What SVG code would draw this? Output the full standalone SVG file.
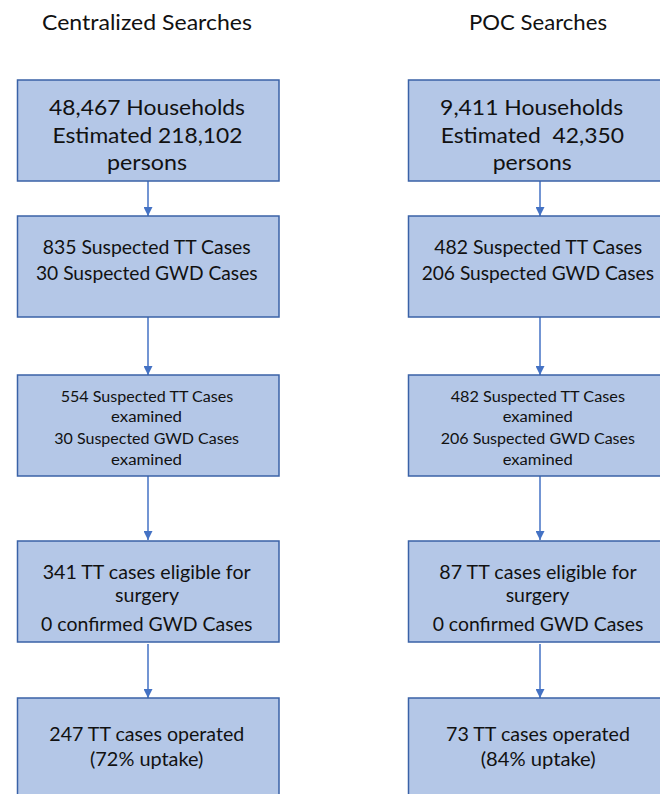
<svg xmlns="http://www.w3.org/2000/svg" width="660" height="794" viewBox="0 0 660 794">
<style>
.box{fill:#B4C7E7;stroke:#3A62A7;stroke-width:1.5}
text{font-family:Lato,"Open Sans","Liberation Sans",sans-serif;fill:#111;text-anchor:middle}
.t{font-size:22px}
.a{font-size:22px}
.b{font-size:18.5px}
.c{font-size:15.5px}
.d{font-size:19px}
.conn line{stroke:#4472C4;stroke-width:1.5}
</style>
<defs>
<marker id="ah" viewBox="0 0 10 10" refX="10" refY="5" markerWidth="6" markerHeight="6" markerUnits="strokeWidth" orient="auto">
<path d="M0,0 L10,5 L0,10 z" fill="#4472C4"/>
</marker>
</defs>
<rect width="660" height="794" fill="#fff"/>
<g id="titles">
<text class="t" x="147" y="30" textLength="210" lengthAdjust="spacingAndGlyphs">Centralized Searches</text>
<text class="t" x="538" y="30" textLength="138" lengthAdjust="spacingAndGlyphs">POC Searches</text>
</g>
<g class="conn" id="connectors">
<line x1="148" y1="181" x2="148" y2="216" marker-end="url(#ah)"/>
<line x1="148" y1="317" x2="148" y2="375" marker-end="url(#ah)"/>
<line x1="148" y1="476" x2="148" y2="540" marker-end="url(#ah)"/>
<line x1="148" y1="644" x2="148" y2="698" marker-end="url(#ah)"/>
<line x1="540" y1="181" x2="540" y2="216" marker-end="url(#ah)"/>
<line x1="540" y1="317" x2="540" y2="375" marker-end="url(#ah)"/>
<line x1="540" y1="476" x2="540" y2="540" marker-end="url(#ah)"/>
<line x1="540" y1="644" x2="540" y2="698" marker-end="url(#ah)"/>
</g>
<g id="L1">
<rect class="box" x="17.5" y="80" width="261.5" height="101"/>
<text class="a" x="147" y="115" textLength="196" lengthAdjust="spacingAndGlyphs">48,467 Households</text>
<text class="a" x="147.5" y="143" textLength="190" lengthAdjust="spacingAndGlyphs">Estimated 218,102</text>
<text class="a" x="147" y="170" textLength="80" lengthAdjust="spacingAndGlyphs">persons</text>
</g>
<g id="L2">
<rect class="box" x="17.5" y="216" width="261.5" height="101"/>
<text class="b" x="146.7" y="254" textLength="208" lengthAdjust="spacingAndGlyphs">835 Suspected TT Cases</text>
<text class="b" x="146.8" y="280" textLength="221.7" lengthAdjust="spacingAndGlyphs">30 Suspected GWD Cases</text>
</g>
<g id="L3">
<rect class="box" x="17.5" y="375" width="261.5" height="101"/>
<text class="c" x="147" y="402.3" textLength="172.7" lengthAdjust="spacingAndGlyphs">554 Suspected TT Cases</text>
<text class="c" x="146.5" y="422.3" textLength="71" lengthAdjust="spacingAndGlyphs">examined</text>
<text class="c" x="146.7" y="444.3" textLength="184.7" lengthAdjust="spacingAndGlyphs">30 Suspected GWD Cases</text>
<text class="c" x="146.5" y="465" textLength="71" lengthAdjust="spacingAndGlyphs">examined</text>
</g>
<g id="L4">
<rect class="box" x="17.5" y="541" width="261.5" height="101"/>
<text class="d" x="146.7" y="579" textLength="208" lengthAdjust="spacingAndGlyphs">341 TT cases eligible for</text>
<text class="d" x="147" y="602" textLength="64" lengthAdjust="spacingAndGlyphs">surgery</text>
<text class="d" x="146.7" y="630.7" textLength="211.3" lengthAdjust="spacingAndGlyphs">0 confirmed GWD Cases</text>
</g>
<g id="L5">
<rect class="box" x="17.5" y="698" width="261.5" height="110"/>
<text class="d" x="146.8" y="740.7" textLength="195" lengthAdjust="spacingAndGlyphs">247 TT cases operated</text>
<text class="d" x="146.7" y="765.5" textLength="113.3" lengthAdjust="spacingAndGlyphs">(72% uptake)</text>
</g>
<g id="R1">
<rect class="box" x="408.5" y="80" width="261.5" height="101"/>
<text class="a" x="531.6" y="115" textLength="183" lengthAdjust="spacingAndGlyphs">9,411 Households</text>
<text class="a" x="532.3" y="143" textLength="183.3" lengthAdjust="spacingAndGlyphs" xml:space="preserve">Estimated  42,350</text>
<text class="a" x="532.2" y="170" textLength="79" lengthAdjust="spacingAndGlyphs">persons</text>
</g>
<g id="R2">
<rect class="box" x="408.5" y="216" width="261.5" height="101"/>
<text class="b" x="538.2" y="254" textLength="208" lengthAdjust="spacingAndGlyphs">482 Suspected TT Cases</text>
<text class="b" x="537.8" y="280" textLength="232.3" lengthAdjust="spacingAndGlyphs">206 Suspected GWD Cases</text>
</g>
<g id="R3">
<rect class="box" x="408.5" y="375" width="261.5" height="101"/>
<text class="c" x="537.8" y="402.3" textLength="174.3" lengthAdjust="spacingAndGlyphs">482 Suspected TT Cases</text>
<text class="c" x="537.7" y="422.3" textLength="70" lengthAdjust="spacingAndGlyphs">examined</text>
<text class="c" x="537.8" y="444.3" textLength="194.3" lengthAdjust="spacingAndGlyphs">206 Suspected GWD Cases</text>
<text class="c" x="537.7" y="465" textLength="70" lengthAdjust="spacingAndGlyphs">examined</text>
</g>
<g id="R4">
<rect class="box" x="408.5" y="541" width="261.5" height="101"/>
<text class="d" x="538" y="579" textLength="197.3" lengthAdjust="spacingAndGlyphs">87 TT cases eligible for</text>
<text class="d" x="537.5" y="602" textLength="63.7" lengthAdjust="spacingAndGlyphs">surgery</text>
<text class="d" x="538" y="630.7" textLength="210.7" lengthAdjust="spacingAndGlyphs">0 confirmed GWD Cases</text>
</g>
<g id="R5">
<rect class="box" x="408.5" y="698" width="261.5" height="110"/>
<text class="d" x="538" y="740.7" textLength="184" lengthAdjust="spacingAndGlyphs">73 TT cases operated</text>
<text class="d" x="538.2" y="765.5" textLength="115" lengthAdjust="spacingAndGlyphs">(84% uptake)</text>
</g>
</svg>
